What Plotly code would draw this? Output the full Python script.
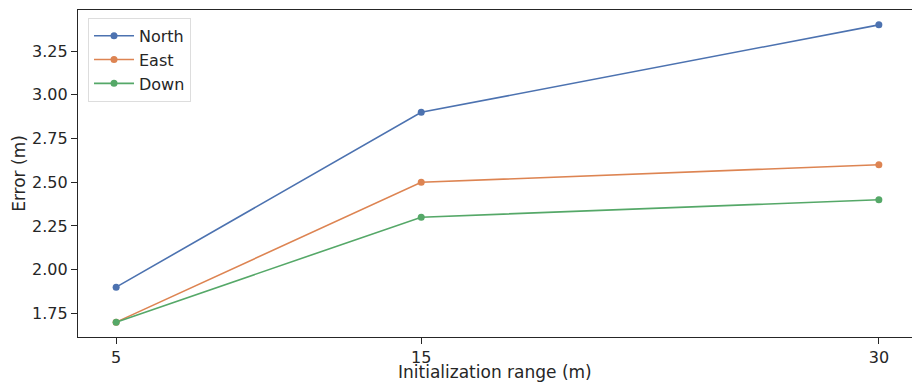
import plotly.graph_objects as go

x_range_m = [5, 15, 30]
north = [1.9, 2.9, 3.4]
east = [1.7, 2.5, 2.6]
down = [1.7, 2.3, 2.4]
series_names = ["North", "East", "Down"]
colors = ["#4C72B0", "#DD8452", "#55A868"]
y_ticks = [1.75, 2.00, 2.25, 2.50, 2.75, 3.00, 3.25]
x_title = "Initialization range (m)"
y_title = "Error (m)"

fig = go.Figure()
for name, vals, c in zip(series_names, [north, east, down], colors):
    fig.add_trace(go.Scatter(
        x=x_range_m, y=vals, name=name, mode="lines+markers",
        line=dict(color=c, width=1.6),
        marker=dict(color=c, size=7),
    ))

font_fam = "DejaVu Sans, sans-serif"
fig.update_layout(
    width=912, height=385,
    margin=dict(l=78, r=0, t=10, b=48),
    paper_bgcolor="white", plot_bgcolor="white",
    font=dict(family=font_fam, size=15, color="#262626"),
    showlegend=True,
    legend=dict(
        x=0.012, y=0.976, xanchor="left", yanchor="top",
        bgcolor="rgba(255,255,255,0.8)", bordercolor="#dddddd", borderwidth=1,
        font=dict(size=16, color="#262626"),
        itemwidth=40, tracegroupgap=0,
    ),
    xaxis=dict(
        range=[3.75, 31.086], tickvals=x_range_m, ticktext=[str(v) for v in x_range_m],
        showgrid=False, zeroline=False, automargin=False,
        showline=True, linecolor="#262626", linewidth=1.25, mirror=True,
        ticks="outside", ticklen=6, tickwidth=1.25, tickcolor="#262626",
        tickfont=dict(size=16),
    ),
    yaxis=dict(
        range=[1.615, 3.485], tickvals=y_ticks, ticktext=[f"{v:.2f}" for v in y_ticks],
        showgrid=False, zeroline=False, automargin=False,
        showline=True, linecolor="#262626", linewidth=1.25,
        ticks="outside", ticklen=6, tickwidth=1.25, tickcolor="#262626",
        title=dict(text=y_title, font=dict(size=17), standoff=2),
        tickfont=dict(size=16),
    ),
    annotations=[dict(
        text=x_title, xref="paper", yref="paper", x=0.5, y=-0.1437,
        xanchor="center", yanchor="bottom", showarrow=False,
        font=dict(size=17, color="#262626"),
    )],
)

fig.write_html(
    "out.html",
    config={"displayModeBar": False},
    post_script="document.body.style.margin='0';document.body.style.overflow='hidden';",
)
